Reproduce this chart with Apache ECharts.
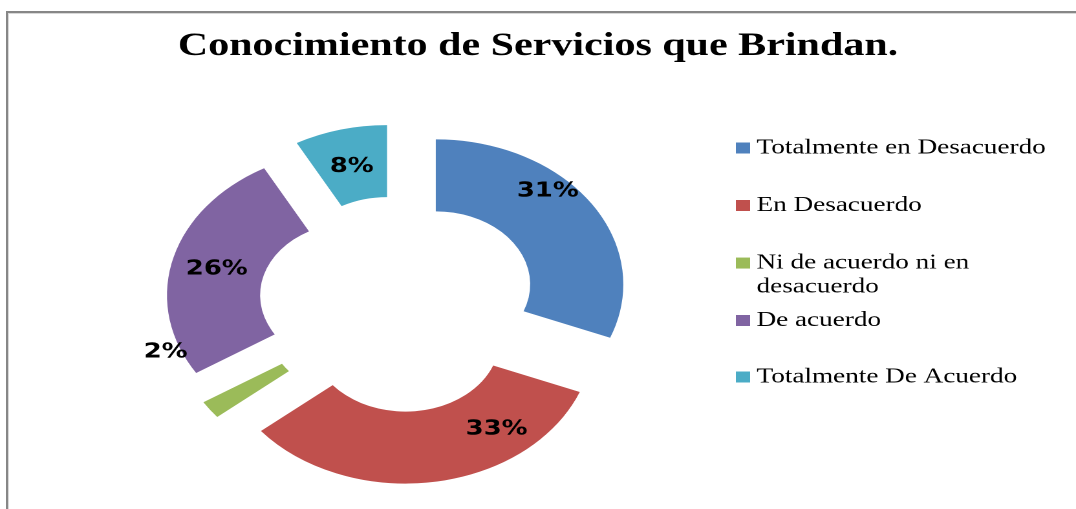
<!DOCTYPE html>
<html>
<head>
<meta charset="utf-8">
<script src="https://cdn.jsdelivr.net/npm/echarts@6/dist/echarts.min.js"></script>
<style>
  html, body { margin: 0; padding: 0; background: #fff; overflow: hidden; width: 1076px; height: 509px; }
  #frame { position: absolute; left: 6px; top: 11px; width: 1200px; height: 600px;
           border-left: 2px solid #878787; border-top: 2px solid #878787;
           box-shadow: inset 1px 1px 0 0 #d8d8d8; }
  #chart { position: absolute; left: 0; top: 0; width: 832px; height: 509px;
           transform: scaleX(1.29327); transform-origin: 0 0; }
</style>
</head>
<body>
<div id="frame"></div>
<div id="chart"></div>
<script>
// ---- data ----
var titleText = 'Conocimiento de Servicios que Brindan.';
var categories = ['Totalmente en Desacuerdo', 'En Desacuerdo', 'Ni de acuerdo ni en desacuerdo', 'De acuerdo', 'Totalmente De Acuerdo'];
var values = [31, 33, 2, 26, 8];
var colors = ['#4F81BD', '#C0504D', '#9BBB59', '#8064A2', '#4BACC6'];
// label nudges (px) to mimic the original label placement
var labelShift = [[-6, -30], [53, -20], [-61, -38], [2, 2], [0.5, 5]];

var EXPLODE = 35;
var total = values.reduce(function (a, b) { return a + b; }, 0);
function midDir(i) {
  var before = 0;
  for (var k = 0; k < i; k++) before += values[k];
  var a = (before + values[i] / 2) / total * 2 * Math.PI;
  return [Math.sin(a), -Math.cos(a)];
}

function wrapName(name) {
  var words = name.split(' '), lines = [], cur = '';
  words.forEach(function (w) {
    var t = cur ? cur + ' ' + w : w;
    if (t.length > 24 && cur) { lines.push(cur); cur = w; } else { cur = t; }
  });
  lines.push(cur);
  if (lines.length === 1) return lines[0];
  return lines[0] + '\n' + lines.slice(1).map(function (l) { return '{z|' + l + '}'; }).join('\n');
}

var legendText = {
  fontFamily: 'Liberation Serif', fontSize: 21, color: '#000', lineHeight: 48,
  rich: { z: { fontFamily: 'Liberation Serif', fontSize: 21, color: '#000', lineHeight: 0.1 } }
};
function makeLegend(names, top, gap) {
  return {
    orient: 'vertical', left: 569, top: top, padding: 0, itemGap: gap,
    itemWidth: 11, itemHeight: 11, icon: 'rect', selectedMode: false,
    data: names, formatter: wrapName, textStyle: legendText
  };
}

var pieCenter = [308, 304];
var pieRadius = [73, 145];

var chart = echarts.init(document.getElementById('chart'), null, { devicePixelRatio: 2, renderer: 'canvas' });
chart.setOption({
  animation: false,
  color: colors,
  title: {
    text: titleText,
    left: 'center',
    top: 30,
    padding: 0,
    textStyle: { fontFamily: 'Liberation Serif', fontWeight: 'bold', fontSize: 32.5, color: '#000' }
  },
  legend: [
    makeLegend(categories.slice(0, 3), 124, 9.5),
    makeLegend(categories.slice(3), 296.5, 8.5)
  ],
  series: [{
    type: 'pie',
    center: pieCenter,
    radius: pieRadius,
    startAngle: 90,
    clockwise: true,
    selectedMode: 'multiple',
    selectedOffset: EXPLODE,
    silent: true,
    emphasis: { disabled: true },
    label: { show: false },
    labelLine: { show: false },
    data: categories.map(function (n, i) { return { name: n, value: values[i], selected: true }; })
  }, {
    type: 'pie',
    center: pieCenter,
    radius: pieRadius,
    startAngle: 90,
    clockwise: true,
    selectedMode: false,
    silent: true,
    avoidLabelOverlap: false,
    emphasis: { disabled: true },
    itemStyle: { color: 'rgba(0,0,0,0)' },
    label: {
      show: true,
      position: 'inside',
      formatter: function (p) { return Math.round(p.percent) + '%'; },
      fontFamily: 'DejaVu Sans', fontWeight: 'bold', fontSize: 20, color: '#000'
    },
    labelLine: { show: false },
    labelLayout: function (p) {
      var s = labelShift[p.dataIndex] || [0, 0];
      var d = midDir(p.dataIndex);
      return {
        x: p.labelRect.x + p.labelRect.width / 2 + d[0] * EXPLODE + s[0],
        y: p.labelRect.y + p.labelRect.height / 2 + d[1] * EXPLODE + s[1],
        align: 'center', verticalAlign: 'middle'
      };
    },
    data: categories.map(function (n, i) { return { name: n, value: values[i] }; })
  }]
});
</script>
</body>
</html>
